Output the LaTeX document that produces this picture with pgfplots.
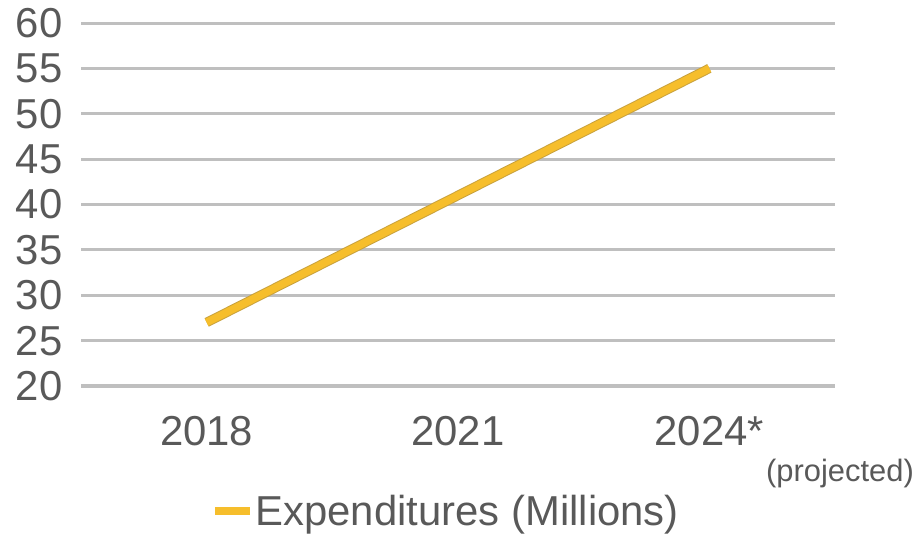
\documentclass[border=0pt]{standalone}
\usepackage{fontspec}
\setmainfont{Liberation Sans}
\usepackage{pgfplots}
\pgfplotsset{compat=1.18}
\definecolor{txt}{HTML}{595959}
\definecolor{gridc}{HTML}{BFBFBF}
\definecolor{gold}{HTML}{F6BE2C}
\definecolor{goldedge}{HTML}{C9A23E}
\begin{document}
\begin{tikzpicture}
\useasboundingbox (0,0) rectangle (922bp,535bp);
\begin{axis}[
 at={(81bp,149bp)}, anchor=south west,
 scale only axis, width=754bp, height=363bp,
 xmin=-0.5, xmax=2.5, ymin=20, ymax=60,
 xtick={0,1,2}, xticklabels={2018,2021,2024*},
 ytick={20,25,...,60},
 ymajorgrids, grid style={gridc, line width=3bp},
 axis line style={draw=none},
 major tick length=0pt,
 tick label style={font=\fontsize{42}{42}\selectfont, text=txt},
 /pgf/number format/assume math mode=true,
 xticklabel style={yshift=-27bp},
 yticklabel style={xshift=-15bp},
 legend style={at={(axis description cs:0.484,-0.345)}, anchor=center, draw=none, fill=none, font=\fontsize{42}{42}\selectfont, text=txt, inner sep=0pt},
 legend image code/.code={\draw[#1] (0bp,0bp) -- (35bp,0bp);},
]
\addplot[goldedge, line width=9.5bp, forget plot] coordinates {(0,27) (1,41) (2,55)};
\addplot[gold, line width=7.5bp] coordinates {(0,27) (1,41) (2,55)};
\addlegendentry{Expenditures (Millions)}
\end{axis}
\node[font=\fontsize{31}{31}\selectfont, text=txt] at (840bp,61bp) {(projected)};
\end{tikzpicture}
\end{document}
